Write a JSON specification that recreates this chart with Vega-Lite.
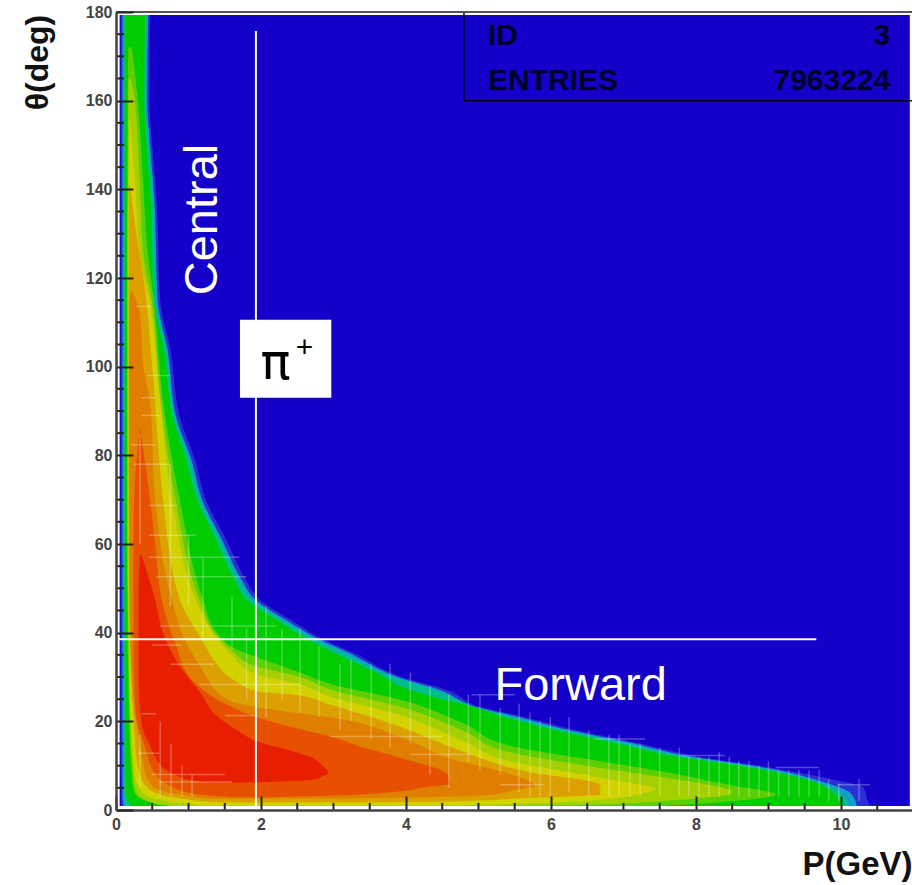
{
"$schema":"https://vega.github.io/schema/vega-lite/v6.json",
"width":796,"height":798,"autosize":"none",
"padding":{"left":116,"top":12,"right":0,"bottom":75},
"background":"white",
"config":{"view":{"stroke":null},"font":"Liberation Sans"},
"datasets":{
"bands":[
{"l":"bg","t":179.3,"a":0.05,"b":10.95},{"l":"bg","t":0.9,"a":0.05,"b":10.95},
{"l":"L0","t":179.3,"a":0.065,"b":0.47},{"l":"L0","t":160,"a":0.065,"b":0.46},{"l":"L0","t":150,"a":0.065,"b":0.5},{"l":"L0","t":137.6,"a":0.065,"b":0.56},{"l":"L0","t":115,"a":0.065,"b":0.61},{"l":"L0","t":104,"a":0.065,"b":0.75},{"l":"L0","t":88,"a":0.065,"b":0.89},{"l":"L0","t":79,"a":0.065,"b":1.09},{"l":"L0","t":70,"a":0.065,"b":1.24},{"l":"L0","t":61,"a":0.065,"b":1.52},{"l":"L0","t":52,"a":0.065,"b":1.79},{"l":"L0","t":47.5,"a":0.065,"b":1.98},{"l":"L0","t":43,"a":0.065,"b":2.4},{"l":"L0","t":38.9,"a":0.065,"b":2.81},{"l":"L0","t":35.5,"a":0.065,"b":3.27},{"l":"L0","t":29.9,"a":0.065,"b":3.96},{"l":"L0","t":27.2,"a":0.065,"b":4.55},{"l":"L0","t":23.1,"a":0.065,"b":5.06},{"l":"L0","t":21.1,"a":0.065,"b":5.6},{"l":"L0","t":18.2,"a":0.065,"b":6.3},{"l":"L0","t":15.2,"a":0.065,"b":7.17},{"l":"L0","t":12.1,"a":0.065,"b":8.0},{"l":"L0","t":9.6,"a":0.065,"b":9.02},{"l":"L0","t":6.5,"a":0.07,"b":10.0},{"l":"L0","t":5.3,"a":0.07,"b":10.3},{"l":"L0","t":1.2,"a":0.07,"b":10.4},{"l":"L0","t":0.9,"a":0.07,"b":10.5},
{"l":"L1","t":179.3,"a":0.09,"b":0.445},{"l":"L1","t":160,"a":0.09,"b":0.43},{"l":"L1","t":150,"a":0.09,"b":0.47},{"l":"L1","t":137.6,"a":0.09,"b":0.53},{"l":"L1","t":115,"a":0.09,"b":0.575},{"l":"L1","t":104,"a":0.09,"b":0.71},{"l":"L1","t":88,"a":0.09,"b":0.84},{"l":"L1","t":79,"a":0.09,"b":1.04},{"l":"L1","t":70,"a":0.09,"b":1.19},{"l":"L1","t":61,"a":0.09,"b":1.46},{"l":"L1","t":52,"a":0.09,"b":1.73},{"l":"L1","t":47.5,"a":0.09,"b":1.92},{"l":"L1","t":43,"a":0.09,"b":2.33},{"l":"L1","t":38.9,"a":0.09,"b":2.75},{"l":"L1","t":35.5,"a":0.09,"b":3.2},{"l":"L1","t":29.9,"a":0.09,"b":3.9},{"l":"L1","t":27.2,"a":0.09,"b":4.45},{"l":"L1","t":23.1,"a":0.09,"b":5.0},{"l":"L1","t":21.1,"a":0.09,"b":5.52},{"l":"L1","t":18.2,"a":0.09,"b":6.2},{"l":"L1","t":15.2,"a":0.09,"b":7.08},{"l":"L1","t":12.1,"a":0.09,"b":7.9},{"l":"L1","t":9.6,"a":0.09,"b":8.93},{"l":"L1","t":6,"a":0.09,"b":9.82},{"l":"L1","t":4,"a":0.09,"b":10.12},{"l":"L1","t":0.9,"a":0.1,"b":10.22},
{"l":"L2","t":179.3,"a":0.105,"b":0.425},{"l":"L2","t":160,"a":0.105,"b":0.41},{"l":"L2","t":150,"a":0.105,"b":0.45},{"l":"L2","t":137.6,"a":0.105,"b":0.51},{"l":"L2","t":115,"a":0.105,"b":0.55},{"l":"L2","t":104,"a":0.105,"b":0.69},{"l":"L2","t":88,"a":0.105,"b":0.82},{"l":"L2","t":79,"a":0.105,"b":1.01},{"l":"L2","t":70,"a":0.105,"b":1.16},{"l":"L2","t":61,"a":0.105,"b":1.43},{"l":"L2","t":52,"a":0.105,"b":1.69},{"l":"L2","t":47.5,"a":0.105,"b":1.87},{"l":"L2","t":43,"a":0.105,"b":2.28},{"l":"L2","t":38.9,"a":0.105,"b":2.69},{"l":"L2","t":35.5,"a":0.105,"b":3.12},{"l":"L2","t":30,"a":0.105,"b":3.82},{"l":"L2","t":27.5,"a":0.105,"b":4.3},{"l":"L2","t":25,"a":0.105,"b":4.7},{"l":"L2","t":23.2,"a":0.105,"b":4.96},{"l":"L2","t":21,"a":0.105,"b":5.46},{"l":"L2","t":18.2,"a":0.105,"b":6.13},{"l":"L2","t":15.2,"a":0.105,"b":7.0},{"l":"L2","t":12.1,"a":0.105,"b":7.82},{"l":"L2","t":9.6,"a":0.105,"b":8.85},{"l":"L2","t":6,"a":0.105,"b":9.72},{"l":"L2","t":3.5,"a":0.11,"b":10.02},{"l":"L2","t":0.9,"a":0.12,"b":10.1},
{"l":"L3","t":179.3,"a":0.12,"b":0.4},{"l":"L3","t":160,"a":0.12,"b":0.39},{"l":"L3","t":150,"a":0.12,"b":0.42},{"l":"L3","t":137,"a":0.12,"b":0.48},{"l":"L3","t":115,"a":0.12,"b":0.52},{"l":"L3","t":104,"a":0.12,"b":0.66},{"l":"L3","t":88,"a":0.12,"b":0.79},{"l":"L3","t":79,"a":0.12,"b":0.97},{"l":"L3","t":70,"a":0.12,"b":1.12},{"l":"L3","t":61,"a":0.12,"b":1.38},{"l":"L3","t":52,"a":0.12,"b":1.63},{"l":"L3","t":47.5,"a":0.12,"b":1.8},{"l":"L3","t":43,"a":0.12,"b":2.2},{"l":"L3","t":38.9,"a":0.12,"b":2.6},{"l":"L3","t":35.5,"a":0.12,"b":3.0},{"l":"L3","t":30,"a":0.125,"b":3.7},{"l":"L3","t":27.9,"a":0.125,"b":3.92},{"l":"L3","t":25,"a":0.125,"b":4.5},{"l":"L3","t":23.4,"a":0.125,"b":4.9},{"l":"L3","t":21,"a":0.125,"b":5.35},{"l":"L3","t":18.2,"a":0.125,"b":6.0},{"l":"L3","t":15.2,"a":0.13,"b":6.85},{"l":"L3","t":12.1,"a":0.13,"b":7.7},{"l":"L3","t":9.6,"a":0.13,"b":8.75},{"l":"L3","t":6.2,"a":0.135,"b":9.65},{"l":"L3","t":3.5,"a":0.14,"b":9.92},{"l":"L3","t":1.6,"a":0.18,"b":10.0},{"l":"L3","t":0.9,"a":0.2,"b":10.0},
{"l":"L4","t":172,"a":0.17,"b":0.22},{"l":"L4","t":160,"a":0.16,"b":0.3},{"l":"L4","t":140,"a":0.155,"b":0.38},{"l":"L4","t":125,"a":0.15,"b":0.44},{"l":"L4","t":115,"a":0.15,"b":0.52},{"l":"L4","t":92,"a":0.15,"b":0.65},{"l":"L4","t":70,"a":0.15,"b":0.88},{"l":"L4","t":47.5,"a":0.155,"b":1.2},{"l":"L4","t":40,"a":0.16,"b":1.39},{"l":"L4","t":36,"a":0.16,"b":1.7},{"l":"L4","t":34.5,"a":0.165,"b":1.94},{"l":"L4","t":31,"a":0.17,"b":2.54},{"l":"L4","t":28.5,"a":0.17,"b":2.95},{"l":"L4","t":25,"a":0.175,"b":3.9},{"l":"L4","t":19.5,"a":0.18,"b":4.8},{"l":"L4","t":14.5,"a":0.19,"b":5.43},{"l":"L4","t":11,"a":0.2,"b":6.68},{"l":"L4","t":8.8,"a":0.21,"b":7.5},{"l":"L4","t":5.5,"a":0.23,"b":8.5},{"l":"L4","t":3.5,"a":0.27,"b":9.1},{"l":"L4","t":1.6,"a":0.5,"b":8.2},{"l":"L4","t":0.9,"a":0.8,"b":7.5},
{"l":"L5","t":165,"a":0.175,"b":0.2},{"l":"L5","t":160,"a":0.17,"b":0.26},{"l":"L5","t":140,"a":0.165,"b":0.33},{"l":"L5","t":125,"a":0.16,"b":0.38},{"l":"L5","t":115,"a":0.16,"b":0.49},{"l":"L5","t":92,"a":0.16,"b":0.62},{"l":"L5","t":70,"a":0.16,"b":0.82},{"l":"L5","t":47.5,"a":0.165,"b":1.15},{"l":"L5","t":40,"a":0.17,"b":1.36},{"l":"L5","t":36,"a":0.175,"b":1.6},{"l":"L5","t":32.4,"a":0.175,"b":1.94},{"l":"L5","t":30,"a":0.18,"b":2.54},{"l":"L5","t":27.2,"a":0.18,"b":2.95},{"l":"L5","t":23.4,"a":0.185,"b":3.9},{"l":"L5","t":17.8,"a":0.2,"b":4.8},{"l":"L5","t":13,"a":0.21,"b":5.43},{"l":"L5","t":9.5,"a":0.23,"b":6.68},{"l":"L5","t":7.5,"a":0.24,"b":7.5},{"l":"L5","t":4,"a":0.28,"b":8.5},{"l":"L5","t":2,"a":0.45,"b":7.5},{"l":"L5","t":1.2,"a":0.6,"b":6.5},{"l":"L5","t":0.9,"a":0.8,"b":5},
{"l":"L6","t":156,"a":0.185,"b":0.19},{"l":"L6","t":140,"a":0.175,"b":0.27},{"l":"L6","t":125,"a":0.17,"b":0.33},{"l":"L6","t":115,"a":0.17,"b":0.46},{"l":"L6","t":92,"a":0.17,"b":0.61},{"l":"L6","t":70,"a":0.17,"b":0.77},{"l":"L6","t":47.5,"a":0.175,"b":1.1},{"l":"L6","t":40,"a":0.18,"b":1.33},{"l":"L6","t":35.4,"a":0.185,"b":1.57},{"l":"L6","t":30.6,"a":0.19,"b":1.94},{"l":"L6","t":28.3,"a":0.19,"b":2.54},{"l":"L6","t":25.6,"a":0.195,"b":2.95},{"l":"L6","t":21.5,"a":0.2,"b":3.9},{"l":"L6","t":15.5,"a":0.22,"b":4.8},{"l":"L6","t":11,"a":0.24,"b":5.43},{"l":"L6","t":7.3,"a":0.26,"b":6.68},{"l":"L6","t":4.6,"a":0.34,"b":7.45},{"l":"L6","t":3.9,"a":0.37,"b":7.3},{"l":"L6","t":2.3,"a":0.6,"b":6.68},{"l":"L6","t":1.5,"a":0.92,"b":5.8},{"l":"L6","t":1,"a":1.2,"b":4.5},
{"l":"L7","t":141,"a":0.185,"b":0.195},{"l":"L7","t":130,"a":0.175,"b":0.28},{"l":"L7","t":120,"a":0.175,"b":0.38},{"l":"L7","t":100,"a":0.175,"b":0.5},{"l":"L7","t":92,"a":0.175,"b":0.54},{"l":"L7","t":70,"a":0.175,"b":0.65},{"l":"L7","t":47.5,"a":0.18,"b":0.88},{"l":"L7","t":37.7,"a":0.19,"b":1.21},{"l":"L7","t":34,"a":0.2,"b":1.34},{"l":"L7","t":29.4,"a":0.21,"b":1.62},{"l":"L7","t":26.8,"a":0.22,"b":1.95},{"l":"L7","t":26,"a":0.22,"b":2.45},{"l":"L7","t":23.8,"a":0.23,"b":2.95},{"l":"L7","t":18.9,"a":0.25,"b":3.9},{"l":"L7","t":13.5,"a":0.27,"b":4.74},{"l":"L7","t":8.7,"a":0.32,"b":5.66},{"l":"L7","t":5.7,"a":0.4,"b":6.68},{"l":"L7","t":3.5,"a":0.6,"b":6.68},{"l":"L7","t":2.7,"a":0.85,"b":5.66},{"l":"L7","t":2,"a":1.2,"b":4.74},{"l":"L7","t":1.7,"a":1.5,"b":3.5},
{"l":"L8","t":117,"a":0.2,"b":0.22},{"l":"L8","t":112,"a":0.18,"b":0.33},{"l":"L8","t":100,"a":0.18,"b":0.38},{"l":"L8","t":92,"a":0.18,"b":0.47},{"l":"L8","t":70,"a":0.18,"b":0.54},{"l":"L8","t":47.5,"a":0.19,"b":0.77},{"l":"L8","t":37.7,"a":0.2,"b":0.97},{"l":"L8","t":32.4,"a":0.21,"b":1.16},{"l":"L8","t":25,"a":0.24,"b":1.53},{"l":"L8","t":23.2,"a":0.25,"b":1.94},{"l":"L8","t":21.8,"a":0.26,"b":2.54},{"l":"L8","t":20.9,"a":0.27,"b":2.95},{"l":"L8","t":16.6,"a":0.31,"b":3.9},{"l":"L8","t":11,"a":0.37,"b":4.74},{"l":"L8","t":9.2,"a":0.39,"b":5.2},{"l":"L8","t":5.4,"a":0.5,"b":5.78},{"l":"L8","t":4.5,"a":0.6,"b":5.5},{"l":"L8","t":3.5,"a":0.85,"b":5.2},{"l":"L8","t":3,"a":1.06,"b":4.6},{"l":"L8","t":2.6,"a":1.3,"b":3},
{"l":"L9","t":86,"a":0.325,"b":0.335},{"l":"L9","t":70,"a":0.25,"b":0.47},{"l":"L9","t":60,"a":0.24,"b":0.54},{"l":"L9","t":47.5,"a":0.24,"b":0.63},{"l":"L9","t":37.5,"a":0.24,"b":0.82},{"l":"L9","t":29.3,"a":0.25,"b":1.05},{"l":"L9","t":25,"a":0.26,"b":1.39},{"l":"L9","t":21,"a":0.28,"b":1.94},{"l":"L9","t":18.2,"a":0.31,"b":2.54},{"l":"L9","t":16.6,"a":0.35,"b":2.95},{"l":"L9","t":13.7,"a":0.41,"b":3.5},{"l":"L9","t":11.8,"a":0.44,"b":3.92},{"l":"L9","t":7.8,"a":0.56,"b":4.58},{"l":"L9","t":5.8,"a":0.7,"b":4.6},{"l":"L9","t":5.3,"a":0.76,"b":4.33},{"l":"L9","t":4,"a":0.98,"b":3.78},{"l":"L9","t":3.3,"a":1.25,"b":3.09},{"l":"L9","t":2.9,"a":1.6,"b":2.2},
{"l":"L10","t":57.5,"a":0.33,"b":0.35},{"l":"L10","t":47.5,"a":0.31,"b":0.54},{"l":"L10","t":40,"a":0.31,"b":0.65},{"l":"L10","t":32.4,"a":0.31,"b":0.88},{"l":"L10","t":26.5,"a":0.32,"b":1.16},{"l":"L10","t":21.2,"a":0.34,"b":1.39},{"l":"L10","t":17.6,"a":0.38,"b":1.71},{"l":"L10","t":15.5,"a":0.44,"b":1.94},{"l":"L10","t":13.6,"a":0.49,"b":2.36},{"l":"L10","t":11.7,"a":0.55,"b":2.72},{"l":"L10","t":10,"a":0.62,"b":2.85},{"l":"L10","t":8.3,"a":0.76,"b":2.93},{"l":"L10","t":7.6,"a":0.85,"b":2.85},{"l":"L10","t":6.8,"a":1.0,"b":2.72},{"l":"L10","t":6.4,"a":1.16,"b":2.2},{"l":"L10","t":6.2,"a":1.4,"b":1.8}
],
"vgrid":[
{"p":0.61,"t1":20,"t2":3},{"p":0.76,"t1":15,"t2":3},{"p":0.91,"t1":10,"t2":3},{"p":1.05,"t1":8,"t2":3},{"p":0.33,"t1":85,"t2":60},{"p":0.33,"t1":17,"t2":5},{"p":0.75,"t1":78,"t2":46},{"p":1.0,"t1":62,"t2":46},{"p":1.2,"t1":57,"t2":38},{"p":1.6,"t1":48,"t2":36},{"p":1.8,"t1":41,"t2":25},{"p":2.07,"t1":46,"t2":21},{"p":2.29,"t1":41,"t2":25},{"p":2.54,"t1":41,"t2":22},{"p":2.8,"t1":37,"t2":21},
{"p":3.09,"t1":33,"t2":18},{"p":3.24,"t1":34,"t2":20},{"p":3.52,"t1":33,"t2":16},{"p":3.78,"t1":33,"t2":14},{"p":4.06,"t1":31,"t2":15},{"p":4.33,"t1":28,"t2":8},{"p":4.59,"t1":26,"t2":5},{"p":4.86,"t1":26,"t2":11},{"p":5.02,"t1":26,"t2":9},{"p":5.3,"t1":23,"t2":8},{"p":5.56,"t1":24,"t2":4},{"p":5.71,"t1":22,"t2":3},{"p":5.85,"t1":20,"t2":3},{"p":5.99,"t1":21,"t2":3},{"p":6.25,"t1":21,"t2":4},{"p":6.52,"t1":18,"t2":3},{"p":6.8,"t1":17,"t2":3},{"p":6.94,"t1":17,"t2":3},{"p":7.09,"t1":15,"t2":3},{"p":7.23,"t1":15,"t2":3},{"p":7.5,"t1":14,"t2":3},{"p":7.77,"t1":14,"t2":3},{"p":7.9,"t1":12,"t2":3},{"p":8.04,"t1":12,"t2":3},{"p":8.18,"t1":12,"t2":3},{"p":8.32,"t1":13,"t2":3},{"p":8.46,"t1":12,"t2":3},{"p":8.59,"t1":11,"t2":3},{"p":8.73,"t1":11,"t2":3},{"p":8.87,"t1":10,"t2":3},{"p":9.0,"t1":11,"t2":3},{"p":9.14,"t1":9,"t2":3},{"p":9.28,"t1":9,"t2":3},{"p":9.42,"t1":9,"t2":3},{"p":9.56,"t1":9,"t2":3},{"p":9.7,"t1":9,"t2":3},{"p":9.83,"t1":7,"t2":2},{"p":9.97,"t1":6,"t2":2},{"p":10.25,"t1":7,"t2":2}
],
"hgrid":[
{"t":113.6,"p1":0.28,"p2":0.5},{"t":98,"p1":0.43,"p2":0.75},{"t":93,"p1":0.35,"p2":0.55},{"t":89,"p1":0.35,"p2":0.6},{"t":82.4,"p1":0.2,"p2":0.55},{"t":78,"p1":0.25,"p2":0.75},{"t":68.7,"p1":0.45,"p2":0.85},{"t":62,"p1":0.45,"p2":1.1},{"t":57,"p1":0.45,"p2":1.7},{"t":52.6,"p1":0.55,"p2":1.8},{"t":41.5,"p1":0.6,"p2":2.2},{"t":37.2,"p1":0.5,"p2":0.9},{"t":32.9,"p1":0.75,"p2":1.35},{"t":28.3,"p1":1.15,"p2":2.55},{"t":21.7,"p1":0.35,"p2":0.55},{"t":21.3,"p1":1.5,"p2":1.9},{"t":12.8,"p1":0.3,"p2":0.6},{"t":8,"p1":0.5,"p2":1.5},{"t":6.3,"p1":0.6,"p2":1.6},{"t":16.6,"p1":2.95,"p2":4.5},{"t":12.5,"p1":4.05,"p2":4.9},{"t":5.7,"p1":5.3,"p2":5.9},{"t":26,"p1":4.9,"p2":5.5},{"t":16,"p1":6.6,"p2":7.3},{"t":12.3,"p1":7.8,"p2":8.4},{"t":9.6,"p1":9.1,"p2":9.7},{"t":5.7,"p1":9.95,"p2":10.4}
],
"vlines":[{"p":1.93,"t1":175.7,"t2":0}],
"hlines":[{"t":38.5,"p1":0,"p2":9.66}],
"box":[{"p1":1.71,"p2":2.97,"t1":93,"t2":110.6}],
"boxv":[{"p":4.8,"t1":180,"t2":160}],
"boxh":[{"t":160,"p1":4.8,"p2":10.98}],
"topline":[{"t":180,"p1":0,"p2":10.98}],
"minorY":[{"t":5},{"t":10},{"t":15},{"t":25},{"t":30},{"t":35},{"t":45},{"t":50},{"t":55},{"t":65},{"t":70},{"t":75},{"t":85},{"t":90},{"t":95},{"t":105},{"t":110},{"t":115},{"t":125},{"t":130},{"t":135},{"t":145},{"t":150},{"t":155},{"t":165},{"t":170},{"t":175}],
"minorX":[{"p":0.5},{"p":1},{"p":1.5},{"p":2.5},{"p":3},{"p":3.5},{"p":4.5},{"p":5},{"p":5.5},{"p":6.5},{"p":7},{"p":7.5},{"p":8.5},{"p":9},{"p":9.5},{"p":10.5}]
},
"encoding":{},
"layer":[
{"data":{"name":"bands"},"mark":{"type":"area","orient":"horizontal","interpolate":"monotone"},
 "encoding":{
  "y":{"field":"t","type":"quantitative","scale":{"domain":[0,180],"nice":false},"axis":{"values":[0,20,40,60,80,100,120,140,160,180],"format":".0f","labelFlush":false,"labelOverlap":false,"zindex":1,"grid":false,"tickSize":-17,"tickWidth":2,"tickColor":"#222222","domainColor":"#444444","domainWidth":2.5,"labelPadding":21,"labelFontSize":16,"labelFontWeight":"bold","labelColor":"#444444","labelFont":"Liberation Sans","title":"θ(deg)","titleFontSize":32,"titleFontWeight":"bold","titleFont":"Liberation Sans","titleColor":"#111111","titleX":-79,"titleY":50,"titleAngle":-90,"titleAlign":"center","titleBaseline":"middle"}},
  "x":{"field":"a","type":"quantitative","scale":{"domain":[0,10.98],"nice":false},"axis":{"values":[0,2,4,6,8,10],"format":".0f","labelFlush":false,"labelOverlap":false,"zindex":1,"grid":false,"tickSize":-14,"tickWidth":2,"tickColor":"#222222","domainColor":"#444444","domainWidth":2.5,"labelPadding":20,"labelFontSize":16,"labelFontWeight":"bold","labelColor":"#444444","labelFont":"Liberation Sans","title":"P(GeV)","titleFontSize":33,"titleFontWeight":"bold","titleFont":"Liberation Sans","titleColor":"#111111","titleAnchor":"end","titleAlign":"right","titleBaseline":"middle","titleX":796,"titleY":54}},
  "x2":{"field":"b"},
  "color":{"field":"l","type":"nominal","legend":null,"scale":{"domain":["bg","L0","L1","L2","L3","L4","L5","L6","L7","L8","L9","L10"],"range":["#1400c8","#2c30d4","#10a0c8","#00c088","#00cc00","#5ccf00","#a4d000","#d2d200","#dca000","#e07e00","#e65000","#e81e00"]}}
 }},
{"data":{"name":"vgrid"},"mark":{"type":"rule","color":"#ffffff","opacity":0.27,"strokeWidth":1.5},"encoding":{"x":{"field":"p","type":"quantitative"},"y":{"field":"t1","type":"quantitative"},"y2":{"field":"t2"}}},
{"data":{"name":"hgrid"},"mark":{"type":"rule","color":"#ffffff","opacity":0.27,"strokeWidth":1.5},"encoding":{"y":{"field":"t","type":"quantitative"},"x":{"field":"p1","type":"quantitative"},"x2":{"field":"p2"}}},
{"data":{"name":"vlines"},"mark":{"type":"rule","color":"#ffffff","strokeWidth":2},"encoding":{"x":{"field":"p","type":"quantitative"},"y":{"field":"t1","type":"quantitative"},"y2":{"field":"t2"}}},
{"data":{"name":"hlines"},"mark":{"type":"rule","color":"#ffffff","strokeWidth":2},"encoding":{"y":{"field":"t","type":"quantitative"},"x":{"field":"p1","type":"quantitative"},"x2":{"field":"p2"}}},
{"data":{"name":"box"},"mark":{"type":"rect","color":"#ffffff"},"encoding":{"x":{"field":"p1","type":"quantitative"},"x2":{"field":"p2"},"y":{"field":"t1","type":"quantitative"},"y2":{"field":"t2"}}},
{"data":{"name":"boxv"},"mark":{"type":"rule","color":"#000020","strokeWidth":1.5},"encoding":{"x":{"field":"p","type":"quantitative"},"y":{"field":"t1","type":"quantitative"},"y2":{"field":"t2"}}},
{"data":{"name":"boxh"},"mark":{"type":"rule","color":"#000020","strokeWidth":1.5},"encoding":{"y":{"field":"t","type":"quantitative"},"x":{"field":"p1","type":"quantitative"},"x2":{"field":"p2"}}},
{"data":{"name":"topline"},"mark":{"type":"rule","color":"#555555","strokeWidth":2},"encoding":{"y":{"field":"t","type":"quantitative"},"x":{"field":"p1","type":"quantitative"},"x2":{"field":"p2"}}},
{"data":{"name":"minorY"},"mark":{"type":"rule","color":"#222222","strokeWidth":2},"encoding":{"y":{"field":"t","type":"quantitative"},"x":{"datum":0,"type":"quantitative"},"x2":{"datum":0.11}}},
{"data":{"name":"minorX"},"mark":{"type":"rule","color":"#222222","strokeWidth":2},"encoding":{"x":{"field":"p","type":"quantitative"},"y":{"datum":0,"type":"quantitative"},"y2":{"datum":1.6}}},
{"data":{"values":[{"s":"Central","p":1.2,"t":133.2}]},"mark":{"type":"text","angle":270,"fontSize":47,"color":"#ffffff","font":"Liberation Sans","align":"center","baseline":"middle"},"encoding":{"x":{"field":"p","type":"quantitative"},"y":{"field":"t","type":"quantitative"},"text":{"field":"s"}}},
{"data":{"values":[{"s":"Forward","p":6.41,"t":27.9}]},"mark":{"type":"text","fontSize":47,"color":"#ffffff","font":"Liberation Sans","align":"center","baseline":"middle"},"encoding":{"x":{"field":"p","type":"quantitative"},"y":{"field":"t","type":"quantitative"},"text":{"field":"s"}}},
{"data":{"values":[{"s":"π","p":2.2,"t":97.3}]},"mark":{"type":"text","fontSize":50,"color":"#000000","font":"DejaVu Sans","align":"center","baseline":"alphabetic"},"encoding":{"x":{"field":"p","type":"quantitative"},"y":{"field":"t","type":"quantitative"},"text":{"field":"s"}}},
{"data":{"values":[{"s":"+","p":2.6,"t":104.2}]},"mark":{"type":"text","fontSize":30,"color":"#000000","font":"Liberation Sans","align":"center","baseline":"middle"},"encoding":{"x":{"field":"p","type":"quantitative"},"y":{"field":"t","type":"quantitative"},"text":{"field":"s"}}},
{"data":{"values":[{"s":"ID","p":5.13,"t":174.6},{"s":"ENTRIES","p":5.13,"t":164.5}]},"mark":{"type":"text","fontSize":30,"fontWeight":"bold","color":"#000028","font":"Liberation Sans","align":"left","baseline":"middle"},"encoding":{"x":{"field":"p","type":"quantitative"},"y":{"field":"t","type":"quantitative"},"text":{"field":"s"}}},
{"data":{"values":[{"s":"3","p":10.68,"t":174.6},{"s":"7963224","p":10.68,"t":164.5}]},"mark":{"type":"text","fontSize":30,"fontWeight":"bold","color":"#000028","font":"Liberation Sans","align":"right","baseline":"middle"},"encoding":{"x":{"field":"p","type":"quantitative"},"y":{"field":"t","type":"quantitative"},"text":{"field":"s"}}}
]
}
